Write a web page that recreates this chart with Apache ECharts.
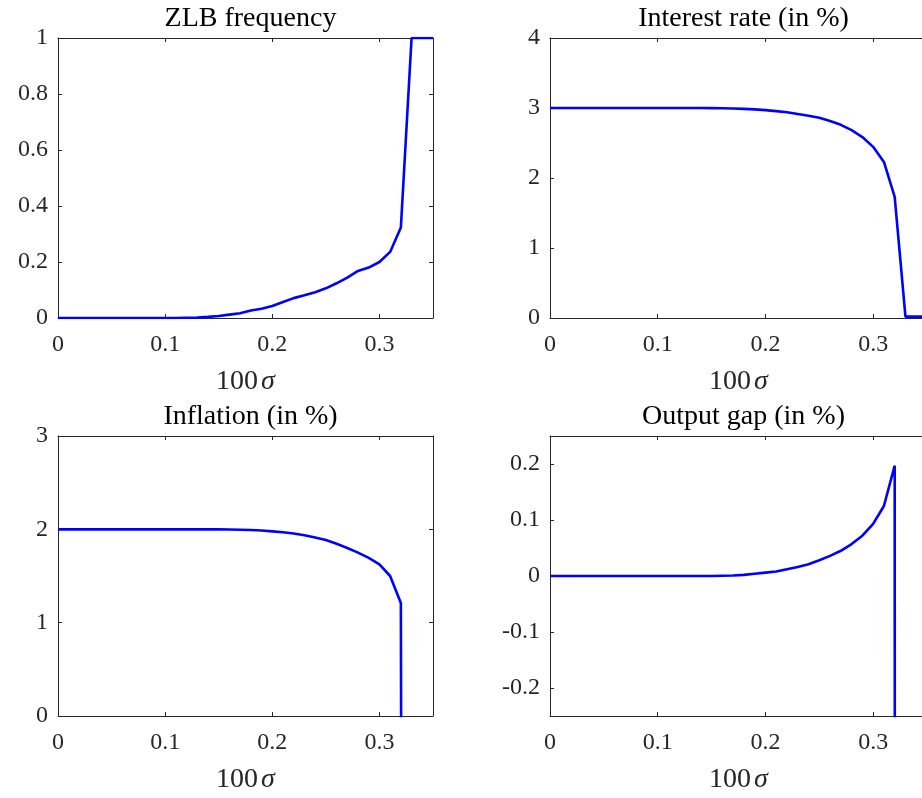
<!DOCTYPE html>
<html>
<head>
<meta charset="utf-8">
<script src="https://cdn.jsdelivr.net/npm/echarts@6.0.0/dist/echarts.min.js"></script>
<style>
html,body{margin:0;padding:0;background:#fff;}
#main{width:922px;height:798px;}
</style>
</head>
<body>
<div id="main"></div>
<script>
// x values: 100*sigma
const sigma = [0,0.01,0.02,0.03,0.04,0.05,0.06,0.07,0.08,0.09,0.10,0.11,0.12,0.13,0.14,0.15,0.16,0.17,0.18,0.19,0.20,0.21,0.22,0.23,0.24,0.25,0.26,0.27,0.28,0.29,0.30,0.31,0.32,0.33,0.34,0.35];

const zlbFrequency = [0,0,0,0,0,0,0,0,0,0,0,0,0.001,0.002,0.004,0.007,0.012,0.017,0.027,0.033,0.043,0.057,0.071,0.081,0.092,0.106,0.124,0.144,0.168,0.18,0.2,0.236,0.323,1,1,1];

const interestRate = [3,3,3,3,3,3,3,3,3,3,3,3,3,3,3,2.998,2.996,2.993,2.988,2.98,2.97,2.955,2.94,2.915,2.89,2.86,2.815,2.76,2.685,2.585,2.445,2.23,1.73,0.02,0.02,0.02];

const inflation = [2,2,2,2,2,2,2,2,2,2,2,2,2,2,2,2,1.998,1.996,1.993,1.988,1.978,1.968,1.955,1.937,1.913,1.885,1.845,1.8,1.75,1.695,1.625,1.5,1.21,-50,null,null];

const outputGap = [0,0,0,0,0,0,0,0,0,0,0,0,0,0,0,0,0.0005,0.001,0.002,0.004,0.006,0.008,0.012,0.016,0.021,0.028,0.036,0.045,0.057,0.072,0.093,0.125,0.197,-50,null,null];

const titles = ['ZLB frequency', 'Interest rate (in %)', 'Inflation (in %)', 'Output gap (in %)'];
const xTicks = [0, 0.1, 0.2, 0.3];
const yTicksZlb = [0, 0.2, 0.4, 0.6, 0.8, 1];
const yTicksRate = [0, 1, 2, 3, 4];
const yTicksInfl = [0, 1, 2, 3];
const yTicksGap = [-0.2, -0.1, 0, 0.1, 0.2];

const panels = [
  {values: zlbFrequency, yMin: 0, yMax: 1, yTicks: yTicksZlb},
  {values: interestRate, yMin: 0, yMax: 4, yTicks: yTicksRate},
  {values: inflation, yMin: 0, yMax: 3, yTicks: yTicksInfl},
  {values: outputGap, yMin: -0.25, yMax: 0.25, yTicks: yTicksGap}
];

const FONT = '"Liberation Serif", "DejaVu Serif", "Times New Roman", serif';
const AXC = '#262626';
const layout = [
  {left: 58, top: 38, width: 375, rightAxis: true},
  {left: 550, top: 38, width: 377, rightAxis: false},
  {left: 58, top: 436, width: 375, rightAxis: true},
  {left: 550, top: 436, width: 377, rightAxis: false}
];
const H = 280;

const grid = [], xAxis = [], yAxis = [], series = [], title = [];
panels.forEach((p, i) => {
  const L = layout[i];
  grid.push({left: L.left, top: L.top, width: L.width, height: H, containLabel: false, outerBoundsMode: 'none'});
  const tickCommon = {show: true, inside: true, length: 4, lineStyle: {color: AXC, width: 1}};
  // bottom x axis
  xAxis.push({
    type: 'value', gridIndex: i, min: 0, max: 0.35, position: 'bottom',
    axisLine: {show: true, onZero: false, lineStyle: {color: AXC, width: 1}},
    axisTick: Object.assign({customValues: xTicks}, tickCommon),
    axisLabel: {customValues: xTicks, color: AXC, fontFamily: FONT, fontSize: 24, margin: 15},
    splitLine: {show: false},
    name: '100{i|σ}', nameLocation: 'middle', nameGap: 50,
    nameTextStyle: {color: AXC, fontFamily: FONT, fontSize: 28,
      rich: {i: {fontStyle: 'italic', fontFamily: FONT, fontSize: 28, color: AXC, padding: [0,0,0,3]}}}
  });
  // top x axis (box + ticks)
  xAxis.push({
    type: 'value', gridIndex: i, min: 0, max: 0.35, position: 'top',
    axisLine: {show: true, onZero: false, lineStyle: {color: AXC, width: 1}},
    axisTick: Object.assign({customValues: xTicks}, tickCommon),
    axisLabel: {show: false}, splitLine: {show: false}
  });
  yAxis.push({
    type: 'value', gridIndex: i, min: p.yMin, max: p.yMax, position: 'left',
    axisLine: {show: true, onZero: false, lineStyle: {color: AXC, width: 1}},
    axisTick: Object.assign({customValues: p.yTicks}, tickCommon),
    axisLabel: {customValues: p.yTicks, color: AXC, fontFamily: FONT, fontSize: 24, margin: 10},
    splitLine: {show: false}
  });
  yAxis.push({
    type: 'value', gridIndex: i, min: p.yMin, max: p.yMax, position: 'right',
    show: L.rightAxis,
    axisLine: {show: true, onZero: false, lineStyle: {color: AXC, width: 1}},
    axisTick: Object.assign({customValues: p.yTicks}, tickCommon),
    axisLabel: {show: false}, splitLine: {show: false}
  });
  series.push({
    type: 'line', xAxisIndex: i * 2, yAxisIndex: i * 2,
    data: sigma.map((s, k) => [s, p.values[k]]),
    showSymbol: false, symbol: 'none', connectNulls: false, clip: true,
    lineStyle: {color: '#0000ff', width: 2.6}, itemStyle: {color: '#0000ff'},
    animation: false, silent: true
  });
  title.push({
    text: titles[i], left: L.left + L.width / 2, top: L.top - 38, textAlign: 'center',
    textStyle: {fontFamily: FONT, fontSize: 28, fontWeight: 'normal', color: '#000'}
  });
});

const chart = echarts.init(document.getElementById('main'), null, {renderer: 'canvas'});
chart.setOption({
  animation: false,
  backgroundColor: '#fff',
  title, grid, xAxis, yAxis, series
});
</script>
</body>
</html>
